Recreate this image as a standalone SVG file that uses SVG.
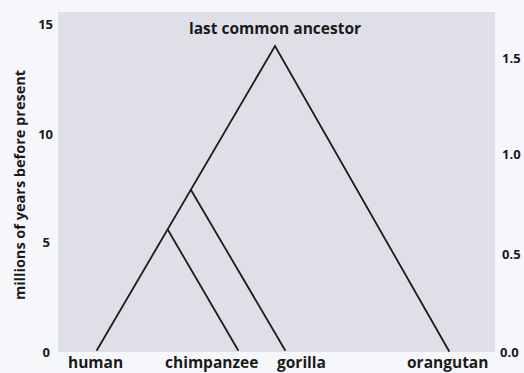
<svg xmlns="http://www.w3.org/2000/svg" width="524" height="373" viewBox="0 0 524 373">
<style>
text{font-family:"Open Sans","Noto Sans","Liberation Sans",sans-serif;font-weight:700;fill:#1a1a1a}
.lbl{font-size:15.5px}
.ttl{font-size:14.5px}
.tick{font-size:13px}
.edge{stroke:#1c1c1e;stroke-width:1.8;fill:none;stroke-linecap:round}
</style>
<rect width="524" height="373" fill="#f6f7fa"/>
<rect x="58" y="12" width="437" height="340" fill="#dfe0e7"/>
<g id="axis-left">
<text class="tick" x="53" y="29" text-anchor="end">15</text>
<text class="tick" x="53" y="139" text-anchor="end">10</text>
<text class="tick" x="50" y="247" text-anchor="end">5</text>
<text class="tick" x="50" y="357" text-anchor="end">0</text>
<text class="ttl" transform="translate(25,185) rotate(-90)" text-anchor="middle">millions of years before present</text>
</g>
<g id="axis-right">
<text class="tick" x="502" y="63">1.5</text>
<text class="tick" x="502" y="159">1.0</text>
<text class="tick" x="502" y="259">0.5</text>
<text class="tick" x="500" y="357">0.0</text>
</g>
<g id="connectors">
<polyline class="edge" points="97,350 275,46 449,351"/>
<line class="edge" x1="168" y1="230" x2="238" y2="350"/>
<line class="edge" x1="191" y1="190" x2="285" y2="350"/>
</g>
<g id="root"><text class="lbl" x="275" y="34" text-anchor="middle">last common ancestor</text></g>
<g id="human"><text class="lbl" x="68" y="368">human</text></g>
<g id="chimpanzee"><text class="lbl" x="165" y="368">chimpanzee</text></g>
<g id="gorilla"><text class="lbl" x="277" y="368">gorilla</text></g>
<g id="orangutan"><text class="lbl" x="407" y="368">orangutan</text></g>
</svg>
